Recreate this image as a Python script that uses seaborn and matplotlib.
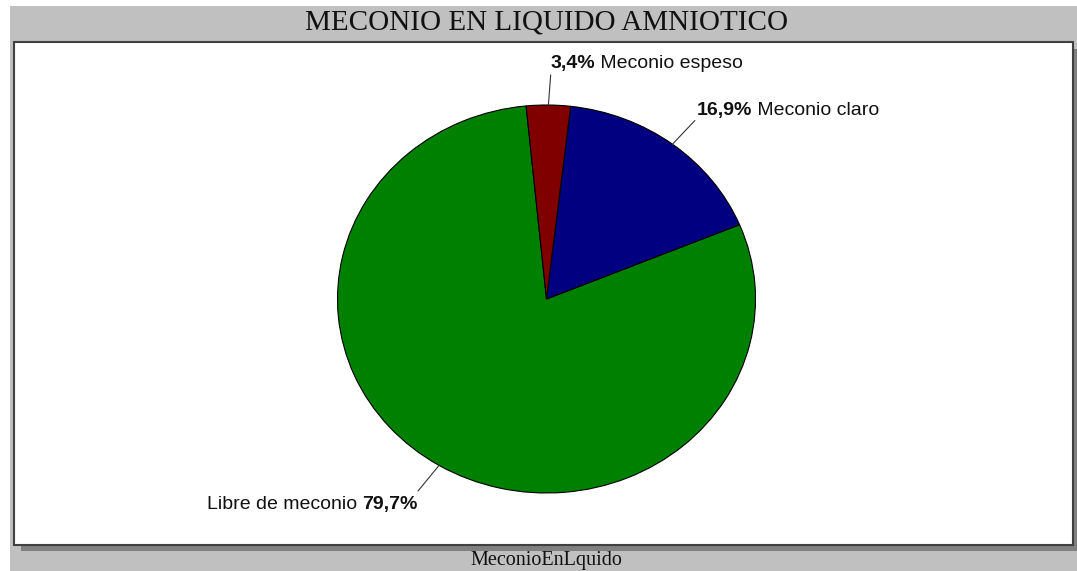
import numpy as np
import matplotlib
matplotlib.use("Agg")
import matplotlib.pyplot as plt
from matplotlib.patches import Rectangle
import seaborn as sns

# ---- data ----
categories = ["Libre de meconio", "Meconio claro", "Meconio espeso"]
values = [79.7, 16.9, 3.4]
pct_labels = ["79,7%", "16,9%", "3,4%"]
colors = ["#008000", "#000080", "#800000"]
title = "MECONIO EN LIQUIDO AMNIOTICO"
footer = "MeconioEnLquido"

sns.set_style("white")
plt.rcParams["font.family"] = ["Liberation Sans", "DejaVu Sans"]

W, H = 1077, 571
fig = plt.figure(figsize=(W / 100, H / 100), dpi=100, facecolor="white")

def fx(px):
    return px / W

def fy(py):
    return (H - py) / H

# gray background, shadow, white panel
fig.add_artist(Rectangle((fx(10), 0), fx(1077) - fx(10), 1 - (6 / H),
                         transform=fig.transFigure, facecolor="#c0c0c0", edgecolor="none", zorder=0))
fig.add_artist(Rectangle((fx(21), fy(551)), fx(1090) - fx(21), fy(49) - fy(551),
                         transform=fig.transFigure, facecolor="#808080", edgecolor="none", zorder=1))
fig.add_artist(Rectangle((fx(14), fy(545)), fx(1073) - fx(14), fy(42) - fy(545),
                         transform=fig.transFigure, facecolor="white", edgecolor="#404040",
                         linewidth=1.5, zorder=2))

fig.text(fx(546.5), fy(22), title, ha="center", va="center",
         family=["Liberation Serif", "DejaVu Serif"], fontsize=21, color="#111111", zorder=5)
fig.text(fx(546.5), fy(560), footer, ha="center", va="center",
         family=["Liberation Serif", "DejaVu Serif"], fontsize=14.5, color="#111111", zorder=5)

# pie axes (slightly elliptical like the reference)
cx, cy, rx, ry = 546.5, 299, 209, 194
ax = fig.add_axes([fx(cx - 1.25 * rx), fy(cy + 1.25 * ry), 2.5 * rx / W, 2.5 * ry / H])
ax.set_zorder(3)
ax.patch.set_alpha(0)
wedges, _ = ax.pie(values, colors=colors, startangle=95.6, counterclock=True,
                   wedgeprops=dict(edgecolor="black", linewidth=0.8))
ax.set_aspect("auto")
ax.set_xlim(-1.25, 1.25)
ax.set_ylim(-1.25, 1.25)
ax.axis("off")

# label anchors (data coords of pie axes): (x, y baseline, side)
anchors = [(-0.615, -1.085, "left"), (0.72, 0.948, "right"), (0.02, 1.19, "right")]
line_ends = [(-0.615, -0.99), (0.71, 0.92), (0.02, 1.155)]
fs = 14

for w, name, pct, (ax_x, ax_y, side), (lx, ly) in zip(wedges, categories, pct_labels, anchors, line_ends):
    mid = np.deg2rad((w.theta1 + w.theta2) / 2)
    ax.plot([np.cos(mid), lx], [np.sin(mid), ly], color="#333333", linewidth=0.8)
    if side == "right":
        t1 = ax.text(ax_x, ax_y, pct, ha="left", va="baseline", fontsize=fs,
                     fontweight="bold", color="#111111")
        ax.annotate(" " + name, xy=(1, ax_y), xycoords=(t1, "data"), ha="left",
                    va="baseline", fontsize=fs, color="#111111")
    else:
        t1 = ax.text(ax_x, ax_y, pct, ha="right", va="baseline", fontsize=fs,
                     fontweight="bold", color="#111111")
        ax.annotate(name + " ", xy=(0, ax_y), xycoords=(t1, "data"), ha="right",
                    va="baseline", fontsize=fs, color="#111111")

fig.savefig("out.png", dpi=100, facecolor="white")
